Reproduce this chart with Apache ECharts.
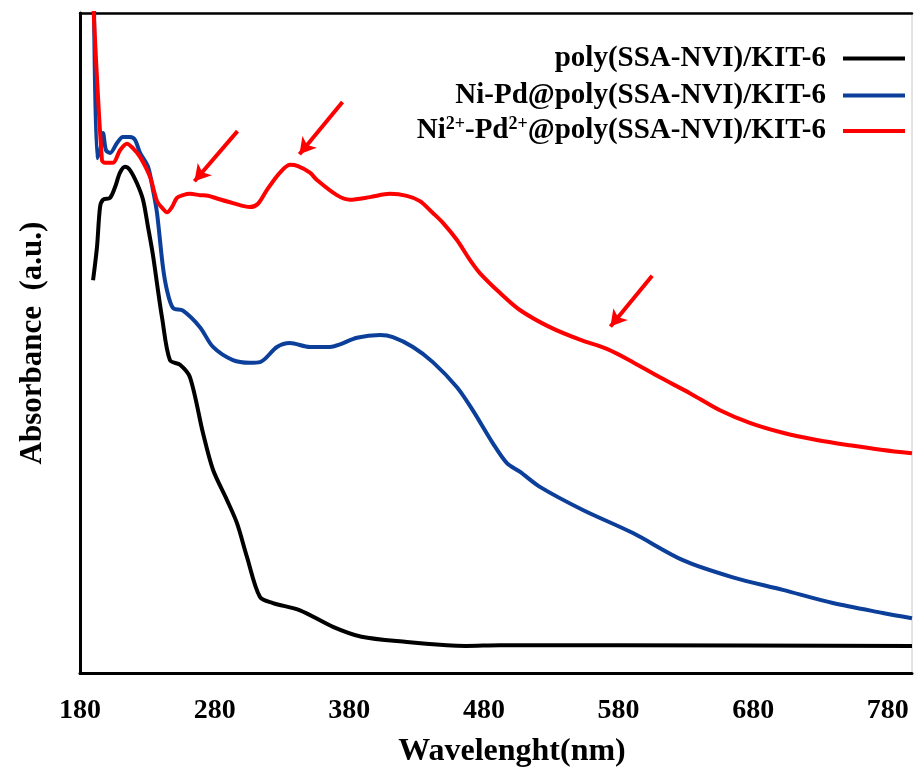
<!DOCTYPE html>
<html>
<head>
<meta charset="utf-8">
<script src="https://cdn.jsdelivr.net/npm/echarts@6/dist/echarts.min.js"></script>
<style>
html,body{margin:0;padding:0;background:#fff;}
#chart{width:914px;height:771px;}
</style>
</head>
<body>
<div id="chart"></div>
<script>
// ---- data (wavelength in nm, absorbance in arbitrary units) ----
const xTickLabels = [180, 280, 380, 480, 580, 680, 780];

const seriesNames = [
  'poly(SSA-NVI)/KIT-6',
  'Ni-Pd@poly(SSA-NVI)/KIT-6',
  'Ni2+-Pd2+@poly(SSA-NVI)/KIT-6'
];

const wavelengthBlack = [189.7,192.6,194.9,197.1,202.3,206.0,209.7,213.4,217.1,222.3,226.8,230.5,234.2,237.9,240.9,246.8,254.3,261.7,271.3,278.8,289.2,296.6,304.0,313.7,323.3,343.4,367.9,389.1,422.8,452.5,466.6,491.9,579.5,798];
const absBlack        = [59.5,64.5,70.6,71.7,72.0,73.6,75.8,76.7,76.2,74.2,71.7,67.6,63.3,58.0,53.9,47.4,46.7,44.8,36.4,30.8,26.2,22.7,17.6,11.5,10.6,9.5,7.0,5.5,4.7,4.2,4.1,4.2,4.2,4.1];

const wavelengthBlue = [190.4,192.6,194.9,197.1,199.3,202.3,207.5,211.9,217.1,220.8,224.6,230.5,234.2,237.2,241.6,244.6,249.1,256.5,269.1,278.8,293.6,306.2,313.7,326.3,335.9,350.8,365.7,373.1,385.7,402.8,412.4,427.3,442.1,460.0,471.8,486.7,497.1,506.7,521.6,553.5,590.7,627.8,664.9,702.0,739.2,776.3,798];
const absBlue        = [102,78.0,79.2,81.8,79.2,78.8,80.3,81.2,81.2,80.8,78.8,76.7,73.2,69.7,61.5,58.0,55.3,54.9,52.4,49.4,47.4,47.0,47.1,49.4,50.0,49.4,49.4,49.8,50.8,51.2,50.9,49.4,47.1,43.3,39.8,34.8,31.8,30.5,28.2,24.7,21.2,17.1,14.5,12.6,10.6,9.1,8.3];

const wavelengthRed = [189.7,196.3,198.6,204.5,209.7,214.9,219.4,224.6,232.0,237.2,240.9,244.6,248.3,252.0,256.5,261.7,269.1,275.1,281.7,293.6,306.2,312.2,318.9,328.5,335.9,341.9,350.8,356.0,370.8,380.5,395.4,410.2,422.8,432.5,442.1,449.6,460.0,469.6,477.0,491.9,506.7,529.0,551.3,571.3,590.7,610.7,633.0,655.3,677.5,702.0,727.3,751.8,776.3,798];
const absRed        = [102,77.7,77.3,77.3,79.2,80.2,79.5,78.2,75.2,71.5,70.5,69.8,70.6,72.0,72.4,72.6,72.4,72.3,71.9,71.2,70.6,71.1,73.2,75.8,77.0,76.8,75.8,74.7,72.4,71.7,72.1,72.6,72.3,71.5,69.7,68.2,65.6,62.6,60.6,57.6,55.0,52.4,50.5,49.1,47.1,44.8,42.4,39.8,37.9,36.4,35.3,34.5,33.8,33.3];

// annotation arrows (tail -> head) in data coordinates
const arrowTails = [[297, 82.1], [375, 86.5], [605, 60.2]];
const arrowHeads = [[265, 74.5], [343, 78.6], [574, 52.5]];

// ---- build ----
const zip = (xs, ys) => xs.map((x, i) => [x, ys[i]]);
const FONT = '"Liberation Serif","Times New Roman",serif';
const colors = ['#000000', '#0b3f99', '#ff0000'];

const chart = echarts.init(document.getElementById('chart'), null, {renderer: 'canvas'});

function makeLegend(idx, top) {
  return {
    data: [seriesNames[idx]],
    right: 9,
    top: top,
    orient: 'vertical',
    align: 'right',
    padding: 0,
    icon: 'rect',
    itemWidth: 62,
    itemHeight: 4,
    selectedMode: false,
    formatter: function (name) {
      if (name === seriesNames[2]) {
        return '{n|Ni}{s|2+}{n|-Pd}{s|2+}{n|@poly(SSA-NVI)/KIT-6}';
      }
      return '{n|' + name + '}';
    },
    textStyle: {
      color: '#000',
      padding: [0, 12, 0, 0],
      rich: {
        n: {fontFamily: FONT, fontWeight: 'bold', fontSize: 29, color: '#000', lineHeight: 32},
        s: {fontFamily: FONT, fontWeight: 'bold', fontSize: 18, color: '#000', lineHeight: 20, verticalAlign: 'top'}
      }
    }
  };
}

const option = {
  animation: false,
  backgroundColor: '#fff',
  color: colors,
  grid: {left: 80, right: 2, top: 13, bottom: 98, show: true, borderColor: '#c8c8c8', borderWidth: 1, backgroundColor: 'transparent', outerBoundsMode: 'none', containLabel: false},
  legend: [makeLegend(0, 44), makeLegend(1, 81), makeLegend(2, 115)],
  xAxis: [{
    type: 'value',
    min: 180,
    max: 798,
    position: 'bottom',
    name: 'Wavelenght(nm)',
    nameLocation: 'middle',
    nameGap: 63,
    nameTextStyle: {fontFamily: FONT, fontWeight: 'bold', fontSize: 32, color: '#000', padding: [0, 0, 0, 32]},
    axisLine: {show: true, lineStyle: {color: '#000', width: 3}},
    axisTick: {show: false},
    splitLine: {show: false},
    axisLabel: {
      customValues: xTickLabels,
      fontFamily: FONT, fontWeight: 'bold', fontSize: 28, color: '#000', margin: 24
    }
  }, {
    type: 'value',
    min: 180,
    max: 798,
    position: 'top',
    axisLine: {show: true, lineStyle: {color: '#000', width: 2.5}},
    axisTick: {show: false},
    axisLabel: {show: false},
    splitLine: {show: false}
  }],
  yAxis: {
    type: 'value',
    min: 0,
    max: 100,
    name: 'Absorbance  (a.u.)',
    nameLocation: 'middle',
    nameGap: 32,
    nameTextStyle: {fontFamily: FONT, fontWeight: 'bold', fontSize: 31, color: '#000'},
    axisLine: {show: true, lineStyle: {color: '#000', width: 3}},
    axisTick: {show: false},
    axisLabel: {show: false},
    splitLine: {show: false}
  },
  series: [{
    name: seriesNames[0],
    type: 'line',
    data: zip(wavelengthBlack, absBlack),
    showSymbol: false,
    smooth: 0.3,
    clip: true,
    lineStyle: {color: colors[0], width: 4},
    itemStyle: {color: colors[0]}
  }, {
    name: seriesNames[1],
    type: 'line',
    data: zip(wavelengthBlue, absBlue),
    showSymbol: false,
    smooth: 0.3,
    clip: true,
    lineStyle: {color: colors[1], width: 4},
    itemStyle: {color: colors[1]}
  }, {
    name: seriesNames[2],
    type: 'line',
    data: zip(wavelengthRed, absRed),
    showSymbol: false,
    smooth: 0.3,
    clip: true,
    lineStyle: {color: colors[2], width: 4},
    itemStyle: {color: colors[2]},
    markLine: {
      silent: true,
      symbol: ['none', 'arrow'],
      symbolSize: [14, 16],
      label: {show: false},
      lineStyle: {color: '#ff0000', width: 4, type: 'solid'},
      emphasis: {disabled: true},
      data: arrowTails.map((t, i) => [{coord: t}, {coord: arrowHeads[i]}])
    }
  }]
};
chart.setOption(option);
</script>
</body>
</html>
